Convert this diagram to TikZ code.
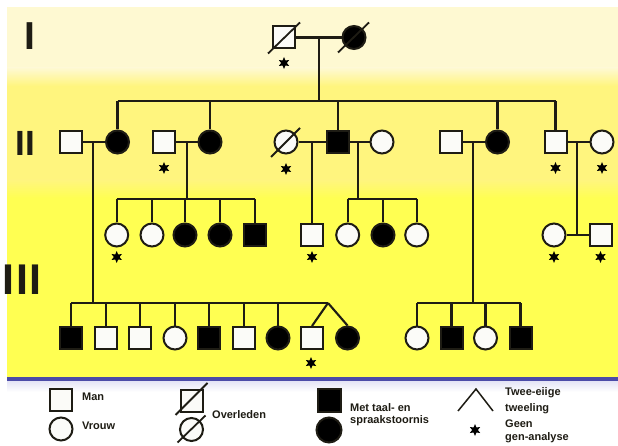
\documentclass[tikz,border=0pt]{standalone}
\usepackage{fontspec}
\setmainfont{Liberation Sans}
\usetikzlibrary{shapes.geometric}
\definecolor{pale}{HTML}{FEF9D2}
\definecolor{mid}{HTML}{FFF57E}
\definecolor{bright}{HTML}{FFFF52}
\definecolor{bluel}{HTML}{4B4BA8}
\definecolor{lav}{HTML}{E4E4F6}
\definecolor{ink}{HTML}{1E1C14}
\definecolor{paper}{HTML}{FBFBF8}
\begin{document}
\begin{tikzpicture}[x=1pt,y=-1pt,
  ln/.style={draw=ink, line width=2.1pt},
  man/.style={rectangle, draw=ink, line width=2pt, fill=paper, minimum size=22pt, inner sep=0pt},
  woman/.style={circle, draw=ink, line width=2pt, fill=paper, minimum size=23pt, inner sep=0pt},
  aff/.style={fill=black},
  gstar/.style={star, star points=6, star point ratio=2.1, fill=black, draw=none, minimum size=12pt, inner sep=0pt},
  lbl/.style={font=\bfseries\fontsize{11}{13}\selectfont, anchor=west, inner sep=0pt, text=ink},
  slash/.style={draw=ink, line width=1.8pt},
  roman/.style={inner sep=0pt, text=ink}
]
\useasboundingbox (0,0) rectangle (618,446);
% background
\fill[white] (0,0) rectangle (618,446);
\fill[pale] (7,7) rectangle (618,68);
\shade[top color=pale, bottom color=mid] (7,68) rectangle (618,86);
\fill[mid] (7,86) rectangle (618,180);
\shade[top color=mid, bottom color=bright] (7,180) rectangle (618,198);
\fill[bright] (7,198) rectangle (618,377);
\fill[bluel] (7,377) rectangle (618,381);
\shade[top color=lav, bottom color=white] (7,381) rectangle (618,392);

% roman numerals
\node[roman, font=\bfseries\fontsize{39}{39}\selectfont] (r1) at (29.5,36) {I};
\node[roman, font=\bfseries\fontsize{35}{35}\selectfont] (r2) at (25.5,143) {I\kern0.5pt I};
\node[roman, font=\bfseries\fontsize{43}{43}\selectfont] (r3) at (22,280) {I\kern2pt I\kern2pt I};

% generation I
\node[man] (g1a) at (284,37.5) {};
\node[woman, aff] (g1b) at (354,37.5) {};
\draw[slash] ([shift={(-16,16)}]g1a.center) -- ([shift={(16,-15)}]g1a.center);
\draw[slash] ([shift={(-16,15)}]g1b.center) -- ([shift={(15,-15)}]g1b.center);
\node[gstar] (st1) at (284,63) {};
\draw[ln] (g1a) -- (g1b);
\coordinate (m1) at (319,37.5);
\coordinate (s1) at (319,101);
\draw[ln] (m1) -- (s1);

% generation II
\node[man] (a1) at (71,142) {};
\node[woman, aff] (a2) at (117.5,142) {};
\node[man] (b1) at (164,142) {};
\node[woman, aff] (b2) at (210,142) {};
\node[woman] (c1) at (286,142) {};
\node[man, aff] (c2) at (338,142) {};
\node[woman] (c3) at (382,142) {};
\node[man] (d1) at (450.5,142) {};
\node[woman, aff] (d2) at (497.5,142) {};
\node[man] (e1) at (555.5,142) {};
\node[woman] (e2) at (602,142) {};
\draw[slash] ([shift={(-15,15)}]c1.center) -- ([shift={(14,-14)}]c1.center);
\node[gstar] (st2) at (164,168) {};
\node[gstar] (st3) at (286,169) {};
\node[gstar] (st4) at (555.5,168) {};
\node[gstar] (st5) at (602,168) {};

\draw[ln] (s1 -| a2) -- (s1 -| e1);
\foreach \n in {a2,b2,c2,d2,e1} \draw[ln] (\n.north |- s1) -- (\n.north);

\draw[ln] (a1) -- (a2);
\draw[ln] (b1) -- (b2);
\draw[ln] (c1) -- (c2);
\draw[ln] (c2) -- (c3);
\draw[ln] (d1) -- (d2);
\draw[ln] (e1) -- (e2);

\coordinate (ma) at (93,142);
\coordinate (mb) at (187,142);
\coordinate (mc) at (312,142);
\coordinate (mcc) at (358,142);
\coordinate (md) at (473,142);
\coordinate (me) at (577,142);
\coordinate (sa) at (93,303);
\coordinate (sb) at (187,199);
\coordinate (scc) at (358,199);
\coordinate (sd) at (473,303);
\coordinate (se) at (577,234);

% generation III, row 1
\node[woman] (b3) at (116.7,235) {};
\node[woman] (b4) at (152,235) {};
\node[woman, aff] (b5) at (185,235) {};
\node[woman, aff] (b6) at (220,235) {};
\node[man, aff] (b7) at (255,235) {};
\node[man] (c4) at (312,235) {};
\node[woman] (c5) at (347.7,235) {};
\node[woman, aff] (c6) at (383,235) {};
\node[woman] (c7) at (416.7,235) {};
\node[woman] (f1) at (554,235) {};
\node[man] (f2) at (600.5,235) {};
\node[gstar] (st6) at (116.7,257) {};
\node[gstar] (st7) at (312,257) {};
\node[gstar] (st8) at (554,257) {};
\node[gstar] (st9) at (600.5,257) {};

\draw[ln] (mb) -- (sb);
\draw[ln] (sb -| b3) -- (sb -| b7);
\foreach \n in {b3,b4,b5,b6,b7} \draw[ln] (\n.north |- sb) -- (\n.north);
\draw[ln] (mc) -- (c4.north);
\draw[ln] (mcc) -- (scc);
\draw[ln] (scc -| c5) -- (scc -| c7);
\foreach \n in {c5,c6,c7} \draw[ln] (\n.north |- scc) -- (\n.north);
\draw[ln] (f1) -- (f2);
\draw[ln] (me) -- (se);

% generation III, row 2
\node[man, aff] (a3) at (71,338) {};
\node[man] (a4) at (106,338) {};
\node[man] (a5) at (140,338) {};
\node[woman] (a6) at (175,338) {};
\node[man, aff] (a7) at (209,338) {};
\node[man] (a8) at (244,338) {};
\node[woman, aff] (a9) at (278,338) {};
\node[man] (a10) at (312,338) {};
\node[woman, aff] (a11) at (347.5,338) {};
\node[gstar] (st10) at (311,363) {};
\coordinate (tw) at (328,303);
\draw[ln] (ma) -- (sa);
\draw[ln] (sa -| a3) -- (tw);
\foreach \n in {a3,a4,a5,a6,a7,a8,a9} \draw[ln] (\n.north |- sa) -- (\n.north);
\draw[ln] (tw) -- (a10.north);
\draw[ln] (tw) -- (a11.north);

\node[woman] (d3) at (417,338) {};
\node[man, aff] (d4) at (451.5,338) {};
\node[woman] (d5) at (485.5,338) {};
\node[man, aff] (d6) at (520.5,338) {};
\draw[ln] (md) -- (sd);
\draw[ln] (sd -| d3) -- (sd -| d6);
\foreach \n in {d3,d4,d5,d6} \draw[ln] (\n.north |- sd) -- (\n.north);

% legend
\node[man] (lm) at (60.5,399.5) {};
\node[woman] (lw) at (61,429) {};
\node[lbl] (tman) at (82,397) {Man};
\node[lbl] (tvrouw) at (82,426) {Vrouw};
\node[man] (ldm) at (191.5,401) {};
\node[woman] (ldw) at (191.5,429.5) {};
\draw[slash] ([shift={(-16,14)}]ldm.center) -- ([shift={(16,-18)}]ldm.center);
\draw[slash] ([shift={(-14,13)}]ldw.center) -- ([shift={(14,-14)}]ldw.center);
\node[lbl] (tover) at (212,415) {Overleden};
\node[man, aff, minimum size=23pt] (lam) at (329,400) {};
\node[woman, aff, minimum size=25pt] (law) at (329,430) {};
\node[lbl] (tmet) at (350,408) {Met taal- en};
\node[lbl] (tspr) at (350,421) {spraakstoornis};
\coordinate (ltw) at (476,389);
\coordinate (ltwl) at (458,411);
\coordinate (ltwr) at (493,411);
\draw[ln, line width=1.5pt] (ltwl) -- (ltw) -- (ltwr);
\node[gstar] (lst) at (475,430) {};
\node[lbl] (ttw1) at (505,393) {Twee-eiige};
\node[lbl] (ttw2) at (505,408.5) {tweeling};
\node[lbl] (ttw3) at (505,423.5) {Geen};
\node[lbl] (ttw4) at (505,438) {gen-analyse};
\end{tikzpicture}
\end{document}
